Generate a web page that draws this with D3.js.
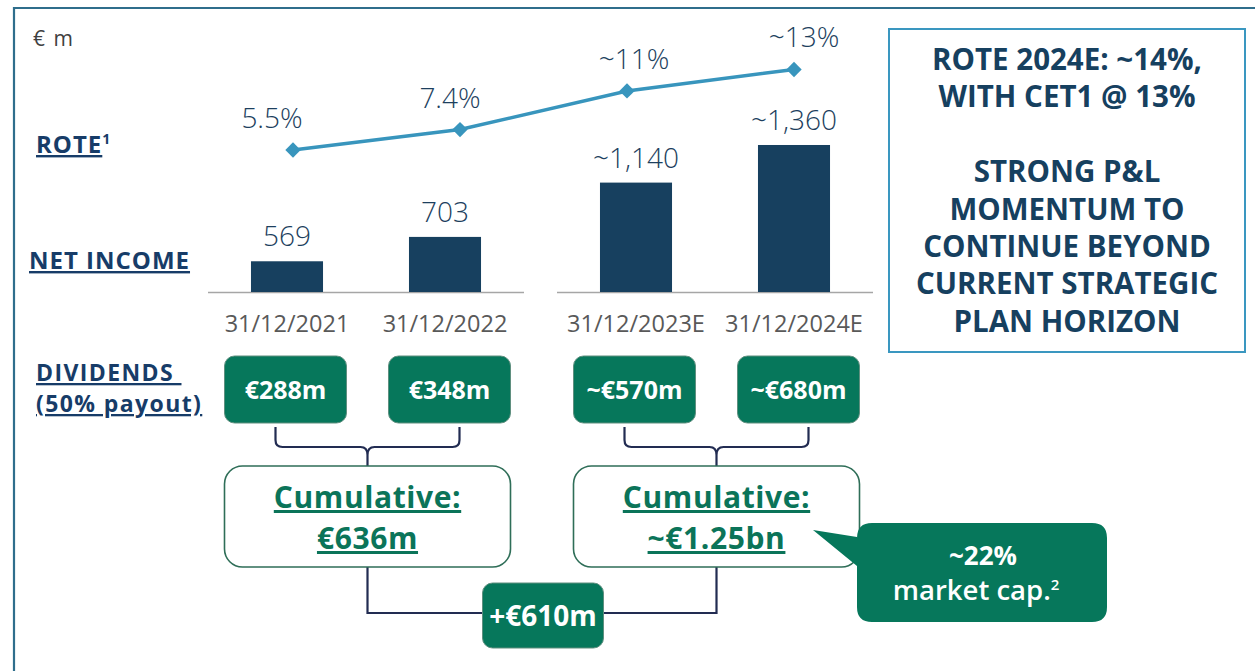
<!DOCTYPE html>
<html>
<head>
<meta charset="utf-8">
<script src="https://cdn.jsdelivr.net/npm/d3@7"></script>
<style>
  html, body { margin: 0; padding: 0; background: #ffffff; }
  svg { display: block; }
</style>
</head>
<body>
<svg id="chart" width="1255" height="671"></svg>
<script>
// ---------------- DATA ----------------
const categories = ["31/12/2021", "31/12/2022", "31/12/2023E", "31/12/2024E"];
const netIncome = [569, 703, 1140, 1360];
const netIncomeLabels = ["569", "703", "~1,140", "~1,360"];
const rote = [5.5, 7.4, 11, 13];
const roteLabels = ["5.5%", "7.4%", "~11%", "~13%"];
const dividends = [288, 348, 570, 680];
const dividendLabels = ["€288m", "€348m", "~€570m", "~€680m"];
const cumulativeLabels = ["€636m", "~€1.25bn"];
const deltaLabel = "+€610m";
const calloutLines = ["~22%", "market cap."];
const sideTextLines = ["ROTE 2024E: ~14%,", "WITH CET1 @ 13%", "", "STRONG P&L", "MOMENTUM TO",
                       "CONTINUE BEYOND", "CURRENT STRATEGIC", "PLAN HORIZON"];
const unitLabel = "€ m";

// ---------------- LAYOUT / STYLE ----------------
const roteLabelDx = [-21, -10, 7, 10];
const navy = "#173c68";
const barColor = "#17405f";
const numColor = "#1d3f5e";
const green = "#06775b";
const greenText = "#0b7459";
const lineBlue = "#3895bd";
const connector = "#222c52";
const boldFont = "'Open Sans', 'Lato', sans-serif";
const lightFont = "'Open Sans', 'Lato', sans-serif";

const svg = d3.select("#chart");

// outer frame
svg.append("path")
  .attr("d", "M14,671 V8 H1255")
  .attr("fill", "none").attr("stroke", "#2f6e8c").attr("stroke-width", 2.2);

svg.append("text").attr("x", 33).attr("y", 46)
  .attr("font-family", lightFont).attr("font-size", 21).attr("fill", "#404040")
  .attr("word-spacing", 3)
  .text(unitLabel);

// ---------------- SCALES ----------------
const leftCats = categories.slice(0, 2), rightCats = categories.slice(2);
const xLeft = d3.scaleBand().domain(leftCats).range([208, 524]).paddingInner(0.544).paddingOuter(0.272);
const xRight = d3.scaleBand().domain(rightCats).range([557, 873]).paddingInner(0.544).paddingOuter(0.272);
const yLeft = d3.scaleLinear().domain([400, 950]).range([292, 192]);
const yRight = d3.scaleLinear().domain([500, 1085]).range([292, 192]);
const xBand = c => leftCats.includes(c) ? xLeft : xRight;
const yFor = c => leftCats.includes(c) ? yLeft : yRight;
const xCenter = c => xBand(c)(c) + xBand(c).bandwidth() / 2;

const xLine = d3.scalePoint().domain(categories).range([293, 794]);
const yRote = d3.scaleLinear().domain([0, 15]).range([209, 48]);

// ---------------- BARS ----------------
const barData = categories.map((c, i) => ({c, v: netIncome[i], lab: netIncomeLabels[i]}));

// baselines
[xLeft, xRight].forEach(sc => {
  svg.append("line")
    .attr("x1", sc.range()[0]).attr("x2", sc.range()[1])
    .attr("y1", 292.5).attr("y2", 292.5)
    .attr("stroke", "#a6a6a6").attr("stroke-width", 1.5);
});

svg.append("g").selectAll("rect").data(barData).join("rect")
  .attr("x", d => xBand(d.c)(d.c))
  .attr("width", d => xBand(d.c).bandwidth())
  .attr("y", d => yFor(d.c)(d.v))
  .attr("height", d => yFor(d.c)(yFor(d.c).domain()[0]) - yFor(d.c)(d.v))
  .attr("fill", barColor);

svg.append("g").selectAll("text").data(barData).join("text")
  .attr("x", d => xCenter(d.c))
  .attr("y", d => yFor(d.c)(d.v) - 15)
  .attr("text-anchor", "middle")
  .attr("font-family", lightFont).attr("font-weight", 300).attr("font-size", 28)
  .attr("fill", numColor)
  .text(d => d.lab);

// category axis labels
svg.append("g").selectAll("text").data(categories).join("text")
  .attr("x", d => xCenter(d))
  .attr("y", 332)
  .attr("text-anchor", "middle")
  .attr("font-family", lightFont).attr("font-size", 23.5).attr("fill", "#595959")
  .text(d => d);

// ---------------- ROTE LINE ----------------
const roteData = categories.map((c, i) => ({c, v: rote[i], lab: roteLabels[i], dx: roteLabelDx[i]}));
svg.append("path").datum(roteData)
  .attr("d", d3.line().x(d => xLine(d.c)).y(d => yRote(d.v)))
  .attr("fill", "none").attr("stroke", lineBlue).attr("stroke-width", 3.5);

svg.append("g").selectAll("path").data(roteData).join("path")
  .attr("d", d3.symbol().type(d3.symbolDiamond2).size(150))
  .attr("transform", d => `translate(${xLine(d.c)},${yRote(d.v)})`)
  .attr("fill", lineBlue);

svg.append("g").selectAll("text").data(roteData).join("text")
  .attr("x", d => xLine(d.c) + d.dx)
  .attr("y", d => yRote(d.v) - 22)
  .attr("text-anchor", "middle")
  .attr("font-family", lightFont).attr("font-weight", 300).attr("font-size", 28)
  .attr("fill", numColor)
  .text(d => d.lab);

// ---------------- ROW LABELS ----------------
function rowLabel(x, ys, lines, sup, fs, ls) {
  const t = svg.append("text")
    .attr("font-family", boldFont).attr("font-weight", 700).attr("font-size", fs || 24)
    .attr("letter-spacing", ls || 1).attr("fill", navy);
  lines.forEach((ln, i) => {
    t.append("tspan").attr("x", x).attr("y", ys[i]).style("text-decoration", "underline").text(ln);
  });
  if (sup) {
    t.append("tspan").attr("font-size", 14).attr("dy", -9).text(sup);
  }
}
rowLabel(36, [153], ["ROTE"], "1");
rowLabel(29, [269], ["NET INCOME"]);
rowLabel(36, [381], ["DIVIDENDS\u00a0"], null, 23, 1.4);
rowLabel(36, [412], ["(50% payout)"], null, 23, 1.4);

// ---------------- DIVIDEND BOXES ----------------
const groups = [leftCats, rightCats].map((cs, gi) => ({
  cats: cs,
  cx: (xCenter(cs[0]) + xCenter(cs[1])) / 2 + 1.5,
  lab: cumulativeLabels[gi]
}));
const divSpread = 82;
const divData = categories.map((c, i) => {
  const g = groups.find(gr => gr.cats.includes(c));
  const side = g.cats.indexOf(c) === 0 ? -1 : 1;
  return {c, v: dividends[i], lab: dividendLabels[i], x: g.cx + side * divSpread};
});
const boxW = 122, boxH = 67, boxY = 356;
const gDiv = svg.append("g").selectAll("g").data(divData).join("g")
  .attr("transform", d => `translate(${d.x},${boxY})`);
gDiv.append("rect")
  .attr("x", -boxW / 2).attr("width", boxW).attr("height", boxH).attr("rx", 10)
  .attr("fill", green).attr("stroke", "#5f8f7f").attr("stroke-width", 1);
gDiv.append("text")
  .attr("y", boxH / 2 + 9).attr("text-anchor", "middle")
  .attr("font-family", boldFont).attr("font-weight", 700).attr("font-size", 25)
  .attr("fill", "#ffffff")
  .text(d => d.lab);

// ---------------- BRACES & CUMULATIVE ----------------
const braceHalf = 92, braceTop = 427, braceMid = 447, cumTop = 466, cumH = 101, cumW = 286;

groups.forEach(g => {
  const xl = g.cx - braceHalf, xr = g.cx + braceHalf, xc = g.cx;
  const p = `M${xl},${braceTop} V${braceMid - 7} Q${xl},${braceMid} ${xl + 7},${braceMid} H${xc - 7} Q${xc},${braceMid} ${xc},${braceMid + 8} V${cumTop}` +
            ` M${xr},${braceTop} V${braceMid - 7} Q${xr},${braceMid} ${xr - 7},${braceMid} H${xc + 7} Q${xc},${braceMid} ${xc},${braceMid + 8}`;
  svg.append("path").attr("d", p).attr("fill", "none").attr("stroke", connector).attr("stroke-width", 2.2);
});

// connector between cumulative boxes
const connY = 613;
svg.append("path")
  .attr("d", `M${groups[0].cx},${cumTop + cumH} V${connY} H${groups[1].cx} V${cumTop + cumH}`)
  .attr("fill", "none").attr("stroke", connector).attr("stroke-width", 2.2);

groups.forEach(g => {
  svg.append("rect")
    .attr("x", g.cx - cumW / 2).attr("y", cumTop).attr("width", cumW).attr("height", cumH).attr("rx", 18)
    .attr("fill", "#ffffff").attr("stroke", "#2f6e58").attr("stroke-width", 1.6);
  const t = svg.append("text").attr("text-anchor", "middle")
    .attr("font-family", boldFont).attr("font-weight", 700).attr("font-size", 30)
    .attr("letter-spacing", 0.6)
    .attr("fill", greenText).style("text-decoration", "underline");
  t.append("tspan").attr("x", g.cx).attr("y", 508).text("Cumulative:");
  t.append("tspan").attr("x", g.cx).attr("y", 549).text(g.lab);
});

// delta box
const deltaX = (groups[0].cx + groups[1].cx) / 2 + 1;
svg.append("rect")
  .attr("x", deltaX - 60.5).attr("y", 583).attr("width", 121).attr("height", 65).attr("rx", 10)
  .attr("fill", green).attr("stroke", "#5f8f7f").attr("stroke-width", 1);
svg.append("text").attr("x", deltaX).attr("y", 626).attr("text-anchor", "middle")
  .attr("font-family", boldFont).attr("font-weight", 700).attr("font-size", 28)
  .attr("fill", "#ffffff").text(deltaLabel);

// ---------------- CALLOUT ----------------
svg.append("path")
  .attr("d", "M872,523 H1092 Q1107,523 1107,538 V607 Q1107,622 1092,622 H872 Q857,622 857,607 V566 L813,530 L857,537 V538 Q857,523 872,523 Z")
  .attr("fill", green);
const ct = svg.append("text").attr("text-anchor", "middle")
  .attr("font-family", boldFont).attr("font-weight", 700).attr("font-size", 26).attr("fill", "#ffffff");
ct.append("tspan").attr("x", 983).attr("y", 565).text(calloutLines[0]);
const ct2 = ct.append("tspan").attr("x", 976).attr("y", 600).attr("font-weight", 600).attr("font-size", 27.5);
ct2.append("tspan").text(calloutLines[1]);
ct2.append("tspan").attr("font-size", 15).attr("dy", -10).text("2");

// ---------------- SIDE TEXT BOX ----------------
svg.append("rect").attr("x", 889).attr("y", 29).attr("width", 356).attr("height", 323)
  .attr("fill", "#ffffff").attr("stroke", "#3a97c0").attr("stroke-width", 2);
svg.append("g").selectAll("text").data(sideTextLines).join("text")
  .attr("x", 1067)
  .attr("y", (d, i) => 70 + i * 37.4)
  .attr("text-anchor", "middle")
  .attr("font-family", boldFont).attr("font-weight", 700).attr("font-size", 29.5)
  .attr("fill", "#16405f")
  .text(d => d);
</script>
</body>
</html>
